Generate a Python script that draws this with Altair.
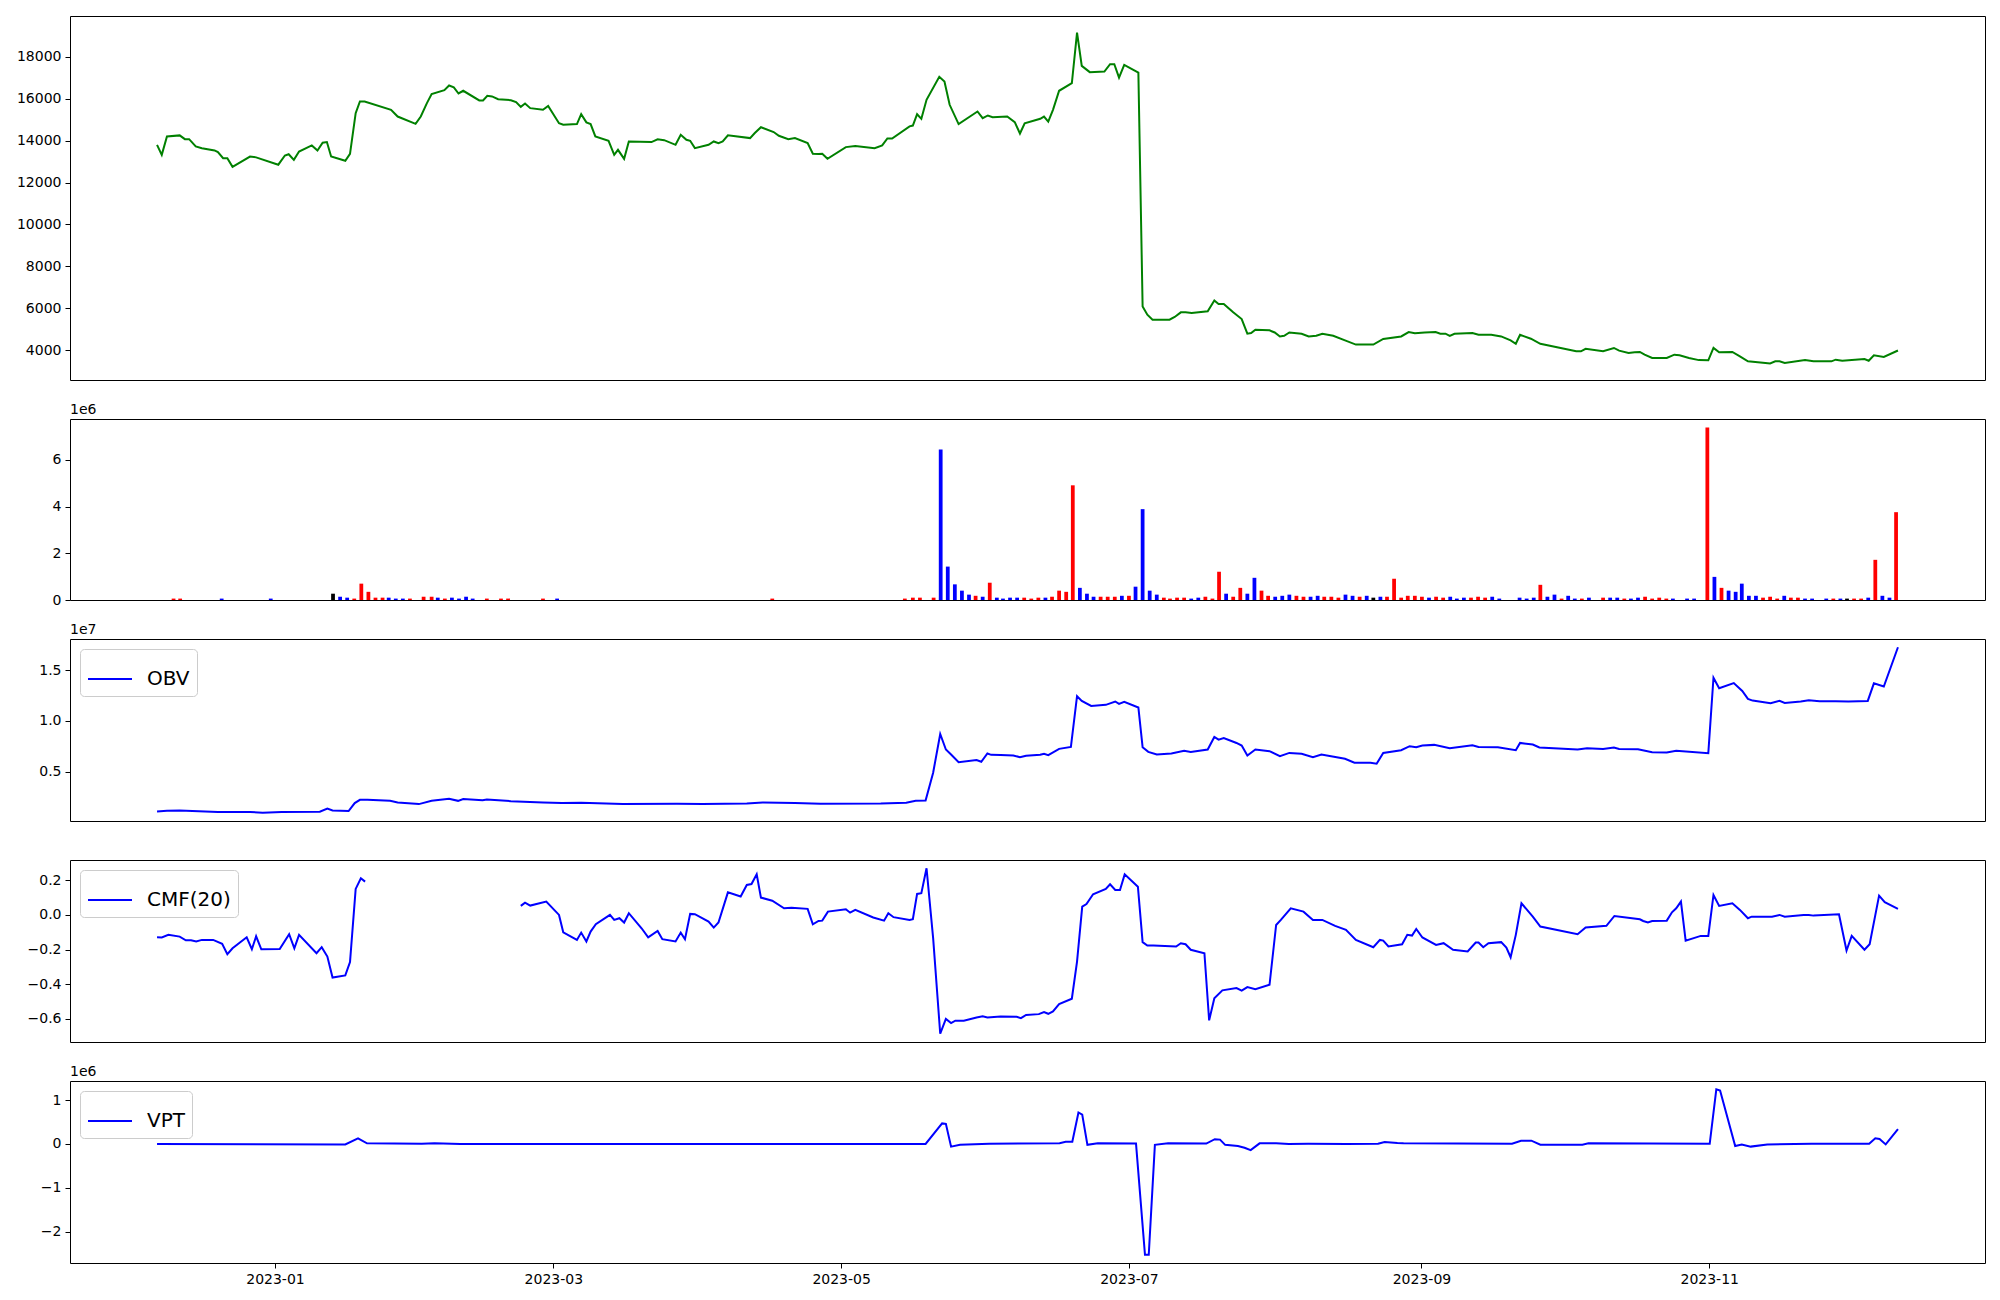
import altair as alt
import pandas as pd

# ---------------- data (day = days since 2023-01-01) -------------
BASE = "2023-01-01"

PRICE = [
    (-25.0, 13800), (-24.0, 13320), (-22.9, 14200), (-20.2, 14250), (-19.1, 14070), (-18.2, 14070),
    (-16.8, 13720), (-15.5, 13640), (-12.8, 13530), (-12.1, 13450), (-11.0, 13160), (-10.1, 13160),
    (-9.0, 12750), (-5.3, 13240), (-4.0, 13200), (0.7, 12850), (2.1, 13290), (2.9, 13350), (4.0, 13080),
    (5.1, 13480), (7.8, 13770), (9.0, 13530), (10.1, 13900), (11.0, 13930), (11.9, 13240), (14.9, 13040),
    (15.9, 13370), (17.1, 15310), (18.0, 15870), (19.0, 15870), (24.6, 15470), (26.0, 15150), (29.8, 14800),
    (30.9, 15150), (32.2, 15790), (33.2, 16220), (35.9, 16410), (36.9, 16630), (37.9, 16540), (38.9, 16250),
    (39.9, 16380), (43.3, 15920), (44.1, 15920), (45.0, 16140), (46.0, 16110), (47.3, 15980), (50.0, 15930),
    (51.1, 15840), (52.1, 15610), (53.0, 15770), (54.1, 15550), (56.8, 15470), (57.9, 15660), (60.2, 14830),
    (61.1, 14760), (64.0, 14790), (64.9, 15260), (66.0, 14870), (66.9, 14790), (67.9, 14200), (70.7, 13990),
    (71.9, 13320), (72.7, 13560), (74.0, 13130), (75.0, 13960), (79.8, 13930), (81.1, 14060), (82.5, 14020),
    (84.9, 13800), (86.0, 14280), (87.2, 14040), (88.0, 13990), (89.0, 13640), (91.9, 13800), (93.0, 13960),
    (94.0, 13880), (94.9, 13960), (96.0, 14250), (100.7, 14120), (101.7, 14360), (103.0, 14640), (105.7, 14410),
    (106.8, 14230), (108.8, 14070), (110.2, 14120), (112.9, 13880), (114.0, 13370), (115.2, 13360), (116.0, 13370),
    (117.1, 13130), (121.0, 13690), (123.0, 13740), (127.1, 13640), (128.7, 13770), (129.8, 14100), (130.8, 14100),
    (134.5, 14680), (135.2, 14720), (136.1, 15260), (137.0, 15040), (138.1, 15950), (140.8, 17050), (141.9, 16820),
    (143.0, 15710), (144.9, 14790), (148.9, 15390), (150.0, 15070), (151.1, 15200), (152.1, 15120), (155.2, 15150),
    (156.8, 14880), (157.9, 14340), (158.9, 14830), (162.2, 15040), (163.0, 15150), (163.9, 14910), (164.9, 15470),
    (166.2, 16380), (168.9, 16740), (170.0, 19160), (171.0, 17570), (172.7, 17270), (175.8, 17300), (177.0, 17650),
    (177.9, 17650), (178.9, 17010), (180.0, 17620), (183.0, 17250), (183.9, 6080), (184.9, 5690), (186.0, 5450),
    (189.6, 5450), (190.7, 5580), (192.0, 5800), (193.0, 5800), (194.3, 5770), (197.7, 5850), (199.1, 6370),
    (200.0, 6200), (201.1, 6200), (203.1, 5800), (204.9, 5480), (206.1, 4780), (206.9, 4810), (207.8, 4970),
    (210.8, 4940), (211.9, 4840), (213.0, 4650), (213.9, 4680), (215.0, 4840), (217.6, 4780), (219.1, 4650),
    (220.7, 4680), (222.0, 4780), (224.3, 4680), (226.8, 4460), (229.1, 4260), (232.8, 4260), (234.9, 4530),
    (238.7, 4650), (240.3, 4860), (241.6, 4800), (243.7, 4840), (246.0, 4860), (247.0, 4780), (248.1, 4780),
    (249.0, 4680), (250.0, 4780), (253.8, 4810), (255.1, 4730), (257.8, 4730), (259.9, 4650), (261.9, 4460),
    (263.0, 4300), (263.9, 4730), (266.2, 4540), (268.2, 4300), (275.8, 3940), (276.8, 3940), (277.8, 4060),
    (281.5, 3940), (283.8, 4100), (284.9, 3970), (286.9, 3860), (288.2, 3890), (289.3, 3910), (290.3, 3780),
    (291.9, 3620), (295.0, 3620), (296.6, 3780), (297.7, 3750), (299.7, 3620), (301.8, 3520), (303.8, 3510),
    (304.9, 4100), (306.1, 3890), (308.9, 3910), (310.5, 3700), (312.2, 3460), (315.9, 3380), (316.9, 3360),
    (318.0, 3460), (318.9, 3460), (320.0, 3380), (324.3, 3520), (326.1, 3460), (329.9, 3460), (330.8, 3540),
    (332.2, 3490), (336.9, 3570), (337.8, 3490), (338.9, 3750), (341.0, 3670), (344.0, 3980),
]

# (day, volume, direction)
VOLUME = [
    (-21.5, 60000, "up"), (-20.1, 60000, "up"), (-11.3, 60000, "down"), (-0.9, 60000, "down"),
    (12.3, 270000, "flat"), (13.8, 140000, "down"), (15.3, 100000, "down"), (16.8, 60000, "up"),
    (18.3, 700000, "up"), (19.8, 350000, "up"), (21.3, 100000, "up"), (22.8, 100000, "up"),
    (24.1, 100000, "down"), (25.6, 60000, "down"), (27.1, 60000, "down"), (28.6, 60000, "up"),
    (31.5, 140000, "up"), (33.2, 140000, "up"), (34.5, 100000, "down"), (36.0, 60000, "up"),
    (37.5, 100000, "down"), (39.0, 60000, "down"), (40.5, 140000, "down"), (41.9, 60000, "down"),
    (44.9, 60000, "up"), (47.9, 60000, "up"), (49.4, 60000, "up"), (56.8, 60000, "up"),
    (59.8, 60000, "down"), (105.4, 60000, "up"), (133.5, 60000, "up"), (135.2, 100000, "up"),
    (136.7, 100000, "up"), (139.6, 100000, "up"), (141.1, 6440000, "down"), (142.6, 1430000, "down"),
    (144.1, 670000, "down"), (145.6, 400000, "down"), (147.1, 230000, "down"), (148.5, 180000, "up"),
    (150.0, 140000, "down"), (151.5, 740000, "up"), (153.0, 100000, "down"), (154.3, 60000, "down"),
    (155.8, 100000, "down"), (157.3, 100000, "down"), (158.8, 100000, "up"), (160.3, 60000, "up"),
    (161.8, 100000, "up"), (163.3, 100000, "down"), (164.7, 140000, "up"), (166.2, 400000, "up"),
    (167.7, 350000, "up"), (169.1, 4910000, "up"), (170.6, 520000, "down"), (172.1, 270000, "down"),
    (173.5, 140000, "down"), (175.0, 140000, "up"), (176.5, 140000, "up"), (178.0, 140000, "up"),
    (179.5, 180000, "down"), (181.0, 180000, "up"), (182.4, 570000, "down"), (183.9, 3890000, "down"),
    (185.4, 400000, "down"), (186.9, 230000, "down"), (188.4, 100000, "up"), (189.7, 60000, "up"),
    (191.2, 100000, "up"), (192.7, 100000, "up"), (194.2, 60000, "down"), (195.7, 100000, "down"),
    (197.2, 140000, "up"), (198.7, 60000, "up"), (200.1, 1210000, "up"), (201.6, 270000, "down"),
    (203.1, 140000, "up"), (204.6, 520000, "up"), (206.1, 270000, "down"), (207.6, 950000, "down"),
    (209.1, 400000, "up"), (210.5, 180000, "up"), (212.0, 140000, "down"), (213.5, 180000, "down"),
    (215.0, 230000, "down"), (216.5, 180000, "up"), (218.0, 140000, "up"), (219.5, 140000, "down"),
    (221.0, 180000, "down"), (222.4, 140000, "up"), (223.9, 140000, "up"), (225.4, 100000, "up"),
    (226.9, 230000, "down"), (228.4, 180000, "down"), (229.9, 140000, "up"), (231.4, 180000, "down"),
    (232.8, 100000, "flat"), (234.3, 140000, "down"), (235.7, 140000, "up"), (237.2, 910000, "up"),
    (238.7, 100000, "up"), (240.1, 180000, "up"), (241.6, 180000, "up"), (243.1, 140000, "up"),
    (244.6, 100000, "down"), (246.1, 140000, "up"), (247.6, 100000, "up"), (249.1, 140000, "down"),
    (250.5, 60000, "down"), (252.0, 100000, "down"), (253.5, 100000, "up"), (255.0, 140000, "up"),
    (256.5, 100000, "up"), (258.0, 140000, "down"), (259.5, 60000, "down"), (263.8, 100000, "down"),
    (265.3, 60000, "down"), (266.8, 100000, "down"), (268.2, 650000, "up"), (269.7, 140000, "down"),
    (271.2, 230000, "down"), (272.7, 60000, "up"), (274.1, 180000, "down"), (275.5, 60000, "down"),
    (277.0, 60000, "up"), (278.5, 100000, "down"), (281.5, 100000, "up"), (283.0, 100000, "down"),
    (284.5, 100000, "down"), (286.0, 60000, "up"), (287.4, 60000, "down"), (288.9, 100000, "down"),
    (290.4, 140000, "up"), (291.9, 60000, "up"), (293.4, 100000, "up"), (294.9, 60000, "up"),
    (296.3, 60000, "down"), (299.3, 60000, "down"), (300.8, 60000, "down"), (303.6, 7380000, "up"),
    (305.1, 990000, "down"), (306.6, 520000, "up"), (308.1, 400000, "down"), (309.6, 350000, "down"),
    (310.9, 700000, "down"), (312.4, 180000, "down"), (313.9, 180000, "down"), (315.4, 100000, "up"),
    (316.9, 140000, "up"), (318.4, 60000, "up"), (319.9, 180000, "down"), (321.3, 100000, "up"),
    (322.8, 100000, "up"), (324.3, 60000, "down"), (325.8, 60000, "down"), (328.8, 60000, "down"),
    (330.3, 60000, "up"), (331.8, 60000, "down"), (333.2, 60000, "flat"), (334.7, 60000, "up"),
    (336.2, 60000, "up"), (337.7, 100000, "down"), (339.2, 1720000, "up"), (340.7, 180000, "down"),
    (342.2, 100000, "down"), (343.6, 3760000, "up"),
]

OBV = [
    (-25.0, 1090000), (-22.9, 1160000), (-20.2, 1190000), (-12.1, 1030000), (-9.4, 1030000), (-5.3, 1030000),
    (-2.6, 960000), (1.4, 1030000), (9.5, 1060000), (11.1, 1380000), (12.2, 1190000), (15.6, 1120000),
    (16.9, 1910000), (18.0, 2230000), (19.6, 2230000), (24.4, 2130000), (26.0, 1970000), (30.5, 1810000),
    (33.2, 2130000), (36.9, 2330000), (38.8, 2130000), (39.9, 2300000), (44.0, 2200000), (44.9, 2260000),
    (50.0, 2100000), (56.8, 1970000), (60.8, 1910000), (64.9, 1940000), (73.7, 1810000), (85.2, 1840000),
    (90.6, 1810000), (100.0, 1870000), (103.4, 1970000), (110.2, 1910000), (115.6, 1840000), (128.4, 1870000),
    (133.8, 1940000), (135.8, 2130000), (137.9, 2170000), (139.5, 4900000), (141.0, 8710000), (142.2, 7180000),
    (143.3, 6690000), (144.9, 5940000), (148.7, 6140000), (149.7, 5980000), (151.0, 6790000), (151.8, 6660000),
    (153.8, 6640000), (156.5, 6600000), (157.9, 6430000), (159.2, 6570000), (162.2, 6660000), (163.0, 6760000),
    (163.9, 6630000), (166.2, 7250000), (168.7, 7440000), (170.0, 12430000), (171.0, 11970000), (173.0, 11480000),
    (176.1, 11580000), (178.1, 11910000), (178.9, 11680000), (180.0, 11870000), (183.0, 11320000), (183.9, 7410000),
    (185.1, 6950000), (186.9, 6690000), (190.0, 6790000), (192.7, 7050000), (194.1, 6950000), (197.7, 7180000),
    (199.1, 8420000), (200.0, 8160000), (201.1, 8320000), (203.8, 7830000), (204.9, 7570000), (206.1, 6600000),
    (207.8, 7180000), (210.8, 7020000), (213.0, 6530000), (215.0, 6850000), (217.6, 6760000), (220.0, 6430000),
    (221.8, 6690000), (226.8, 6270000), (228.8, 5880000), (232.2, 5880000), (233.5, 5780000), (234.9, 6850000),
    (238.7, 7120000), (240.5, 7510000), (241.9, 7410000), (243.2, 7570000), (245.7, 7640000), (249.0, 7310000),
    (253.8, 7610000), (255.1, 7440000), (259.2, 7410000), (263.0, 7120000), (263.9, 7830000), (266.6, 7670000),
    (268.0, 7380000), (276.1, 7180000), (278.1, 7310000), (281.5, 7240000), (283.8, 7380000), (284.9, 7240000),
    (288.9, 7210000), (291.9, 6920000), (295.0, 6890000), (297.0, 7050000), (303.8, 6820000), (304.9, 14250000),
    (306.1, 13210000), (309.2, 13730000), (311.0, 12950000), (312.2, 12170000), (313.2, 12000000), (317.0, 11740000),
    (318.9, 11970000), (320.0, 11770000), (323.4, 11910000), (325.1, 12040000), (327.4, 11940000), (330.8, 11940000),
    (333.5, 11910000), (337.6, 11970000), (338.9, 13700000), (341.0, 13390000), (344.0, 17250000),
]

CMF_PART1 = [
    (-25.0, -0.129), (-24.0, -0.130), (-22.6, -0.115), (-20.2, -0.125), (-18.9, -0.146), (-17.8, -0.146),
    (-16.7, -0.153), (-15.5, -0.144), (-13.1, -0.144), (-11.2, -0.167), (-10.1, -0.226), (-9.0, -0.192),
    (-6.0, -0.129), (-4.9, -0.198), (-4.0, -0.123), (-2.9, -0.198), (1.0, -0.196), (3.0, -0.111),
    (4.1, -0.192), (5.1, -0.115), (8.8, -0.221), (9.9, -0.186), (11.1, -0.240), (12.2, -0.361),
    (14.9, -0.349), (15.9, -0.272), (17.1, 0.150), (18.2, 0.211), (19.1, 0.192),
]

CMF_PART2 = [
    (52.1, 0.052), (53.0, 0.071), (54.1, 0.054), (57.5, 0.077), (60.2, 0.0), (61.1, -0.100), (64.0, -0.144),
    (64.9, -0.102), (66.0, -0.153), (66.9, -0.096), (68.0, -0.054), (71.0, 0.0), (71.9, -0.029), (73.0, -0.019),
    (74.0, -0.044), (75.0, 0.010), (77.7, -0.077), (79.1, -0.129), (81.1, -0.092), (82.1, -0.140), (84.9, -0.153),
    (86.0, -0.102), (86.9, -0.140), (88.0, 0.006), (89.0, 0.004), (91.9, -0.038), (93.0, -0.073), (94.0, -0.044),
    (96.0, 0.130), (98.7, 0.106), (100.0, 0.173), (101.0, 0.178), (102.1, 0.234), (103.0, 0.100), (105.4, 0.082),
    (107.9, 0.038), (109.5, 0.042), (112.9, 0.035), (114.0, -0.054), (115.2, -0.035), (116.0, -0.033),
    (117.2, 0.019), (121.0, 0.033), (121.9, 0.013), (123.0, 0.029), (126.8, -0.015), (129.1, -0.033),
    (130.0, 0.010), (131.1, -0.013), (134.5, -0.029), (135.2, -0.025), (136.1, 0.121), (137.0, 0.125),
    (138.1, 0.269), (139.5, -0.134), (141.0, -0.685), (142.2, -0.600), (143.3, -0.624), (144.2, -0.610),
    (146.0, -0.610), (148.7, -0.591), (150.0, -0.585), (151.0, -0.591), (153.8, -0.585), (157.2, -0.587),
    (158.1, -0.595), (159.2, -0.577), (161.9, -0.572), (163.0, -0.560), (163.9, -0.570), (164.9, -0.556),
    (166.2, -0.514), (168.9, -0.483), (170.0, -0.269), (171.1, 0.048), (172.0, 0.063), (173.4, 0.119),
    (176.1, 0.150), (177.0, 0.177), (178.1, 0.144), (179.1, 0.144), (180.1, 0.234), (182.9, 0.163),
    (183.9, -0.157), (184.9, -0.177), (186.2, -0.177), (191.0, -0.182), (192.0, -0.163), (193.0, -0.169),
    (194.1, -0.201), (197.0, -0.221), (198.0, -0.608), (199.1, -0.480), (200.8, -0.435), (203.8, -0.422),
    (204.9, -0.437), (206.1, -0.416), (207.8, -0.428), (210.8, -0.403), (212.2, -0.058), (213.2, -0.029),
    (215.3, 0.038), (218.0, 0.019), (220.0, -0.029), (222.0, -0.029), (224.7, -0.063), (227.0, -0.086),
    (229.1, -0.144), (232.8, -0.186), (234.2, -0.144), (234.9, -0.148), (236.0, -0.182), (238.9, -0.169),
    (240.0, -0.115), (241.0, -0.119), (241.9, -0.081), (243.2, -0.130), (246.1, -0.173), (247.7, -0.163),
    (249.7, -0.201), (252.8, -0.211), (254.5, -0.159), (255.1, -0.159), (256.1, -0.186), (257.2, -0.163),
    (259.9, -0.157), (261.0, -0.188), (261.9, -0.244), (263.0, -0.115), (264.2, 0.067), (266.6, -0.010),
    (268.2, -0.067), (276.1, -0.111), (277.8, -0.073), (282.2, -0.063), (283.9, -0.006), (289.3, -0.025),
    (290.0, -0.035), (291.0, -0.044), (291.9, -0.035), (295.0, -0.033), (296.1, 0.015), (297.0, 0.038),
    (298.0, 0.077), (299.0, -0.148), (302.2, -0.121), (303.8, -0.121), (304.9, 0.115), (306.1, 0.052),
    (308.9, 0.067), (310.5, 0.029), (312.2, -0.019), (313.0, -0.010), (317.3, -0.010), (318.9, 0.0),
    (320.0, -0.010), (324.0, 0.0), (325.1, 0.0), (326.1, -0.004), (331.5, 0.004), (333.1, -0.205),
    (334.2, -0.121), (336.9, -0.201), (338.0, -0.169), (340.0, 0.111), (341.2, 0.073), (344.0, 0.035),
]

VPT = [
    (-25.0, 0), (14.9, -10000), (17.6, 130000), (19.5, 15000), (31.1, 5000), (33.8, 15000), (39.3, 0),
    (137.9, 0), (141.4, 470000), (142.2, 460000), (143.3, -60000), (145.2, -20000), (151.4, 5000),
    (166.3, 15000), (167.6, 50000), (169.0, 50000), (170.3, 720000), (171.1, 670000), (172.2, -20000),
    (174.4, 15000), (182.5, 10000), (184.4, -2530000), (185.2, -2530000), (186.5, -20000), (189.3, 15000),
    (197.4, 10000), (199.2, 110000), (200.3, 100000), (201.4, -20000), (204.1, -45000), (205.5, -85000),
    (206.8, -140000), (208.7, 15000), (212.2, 15000), (214.9, 0), (219.0, 5000), (227.1, 0), (233.8, 5000),
    (235.2, 45000), (237.9, 20000), (239.2, 15000), (262.2, 5000), (264.1, 75000), (266.3, 75000),
    (268.2, -15000), (277.1, -15000), (278.4, 15000), (304.1, 5000), (305.5, 1250000), (306.3, 1220000),
    (309.5, -45000), (310.9, -10000), (312.8, -60000), (316.3, -10000), (325.7, 5000), (337.9, 5000),
    (339.2, 130000), (340.1, 115000), (341.4, -10000), (344.0, 340000),
]

PRICE_TICKS = [4000, 6000, 8000, 10000, 12000, 14000, 16000, 18000]
VOLUME_TICKS = [0, 2e6, 4e6, 6e6]
OBV_TICKS = [0.5e7, 1.0e7, 1.5e7]
CMF_TICKS = [-0.6, -0.4, -0.2, 0.0, 0.2]
VPT_TICKS = [-2e6, -1e6, 0, 1e6]
X_TICK_MONTHS = [1, 3, 5, 7, 9, 11]

# ---------------- helpers -------------
base = pd.Timestamp(BASE)


def ts(day):
    return base + pd.Timedelta(days=day)


def line_df(pairs, seg=1):
    return pd.DataFrame({"date": [ts(d) for d, _ in pairs],
                         "value": [v for _, v in pairs],
                         "seg": seg})


def margin_domain(values, frac=0.05):
    lo, hi = min(values), max(values)
    m = (hi - lo) * frac
    return [lo - m, hi + m]


def dt(t):
    return alt.DateTime(year=t.year, month=t.month, date=t.day,
                        hours=t.hour, minutes=t.minute, seconds=t.second)


price_df = line_df(PRICE)
obv_df = line_df(OBV)
cmf_df = pd.concat([line_df(CMF_PART1, 1), line_df(CMF_PART2, 2)], ignore_index=True)
vpt_df = line_df(VPT)
vol_df = pd.DataFrame({
    "start": [ts(d - 0.4) for d, _, _ in VOLUME],
    "end": [ts(d + 0.4) for d, _, _ in VOLUME],
    "volume": [v for _, v, _ in VOLUME],
    "dir": [c for _, _, c in VOLUME],
})

all_days = [d for d, _ in PRICE]
xlo, xhi = margin_domain(all_days)
xscale = alt.Scale(domain=[dt(ts(xlo)), dt(ts(xhi))])

FONT = "DejaVu Sans"
W = 1915
LABEL = dict(labelFont=FONT, labelFontSize=14, labelColor="black", labelPadding=4,
             tickSize=5, tickColor="black", tickWidth=1, domain=False, grid=False, title=None)


def yaxis(values, **kw):
    return alt.Axis(values=values, **LABEL, **kw)


def offset_text(txt):
    return alt.Chart(pd.DataFrame({"t": [txt]})).mark_text(
        align="left", baseline="alphabetic", font=FONT, fontSize=14, color="black"
    ).encode(x=alt.value(0), y=alt.value(-5), text="t:N")


def legend():
    return alt.Legend(title=None, orient="top-left", offset=10, padding=7, cornerRadius=4,
                      strokeColor="#cccccc", fillColor="white", labelFont=FONT, labelFontSize=20,
                      labelColor="black", symbolType="stroke", symbolSize=1936,
                      symbolStrokeWidth=2, labelOffset=14)


# ---------------- panels -------------
price_chart = alt.Chart(price_df).mark_line(color="#008000", strokeWidth=2).encode(
    x=alt.X("date:T", scale=xscale, axis=None),
    y=alt.Y("value:Q", scale=alt.Scale(domain=margin_domain([v for _, v in PRICE]), nice=False, zero=False),
            axis=yaxis(PRICE_TICKS, format="d")),
).properties(width=W, height=364)

vmax = max(v for _, v, _ in VOLUME)
vol_bars = alt.Chart(vol_df).mark_bar().encode(
    x=alt.X("start:T", scale=xscale, axis=None),
    x2="end:T",
    y=alt.Y("volume:Q", scale=alt.Scale(domain=[0, vmax * 1.05], nice=False),
            axis=yaxis(VOLUME_TICKS, labelExpr="format(datum.value/1e6, 'd')")),
    y2=alt.datum(0),
    color=alt.Color("dir:N", scale=alt.Scale(domain=["up", "down", "flat"], range=["red", "blue", "black"]),
                    legend=None),
)
vol_chart = alt.layer(vol_bars, offset_text("1e6")).properties(width=W, height=181)


def indicator(df, name, ticks, height, xaxis=None, **axkw):
    vals = df["value"].tolist()
    return alt.Chart(df.assign(series=name)).mark_line(strokeWidth=2).encode(
        x=alt.X("date:T", scale=xscale, axis=xaxis),
        y=alt.Y("value:Q", scale=alt.Scale(domain=margin_domain(vals), nice=False, zero=False),
                axis=yaxis(ticks, **axkw)),
        color=alt.Color("series:N", scale=alt.Scale(domain=[name], range=["blue"]), legend=legend()),
        detail="seg:N",
    ).properties(width=W, height=height)


obv_chart = alt.layer(
    indicator(obv_df, "OBV", OBV_TICKS, 182, labelExpr="format(datum.value/1e7, '.1f')"),
    offset_text("1e7"),
).properties(width=W, height=182)

cmf_chart = indicator(cmf_df, "CMF(20)", CMF_TICKS, 182, format=".1f")

x_bottom = alt.Axis(values=[alt.DateTime(year=2023, month=m, date=1) for m in X_TICK_MONTHS],
                    format="%Y-%m", labelAngle=0, **LABEL)
vpt_chart = alt.layer(
    indicator(vpt_df, "VPT", VPT_TICKS, 182, xaxis=x_bottom, labelExpr="format(datum.value/1e6, 'd')"),
    offset_text("1e6"),
).properties(width=W, height=182)

chart = alt.vconcat(
    price_chart, vol_chart, obv_chart, cmf_chart, vpt_chart, spacing=39, bounds="flush"
).resolve_scale(
    x="independent", y="independent", color="independent"
).configure(
    font=FONT, view=alt.ViewConfig(stroke="black", strokeWidth=1)
).properties(
    padding={"left": 7, "top": 7, "right": 5, "bottom": 5}, background="white"
)

chart.save("out.html", embed_options={"renderer": "svg", "actions": False})
